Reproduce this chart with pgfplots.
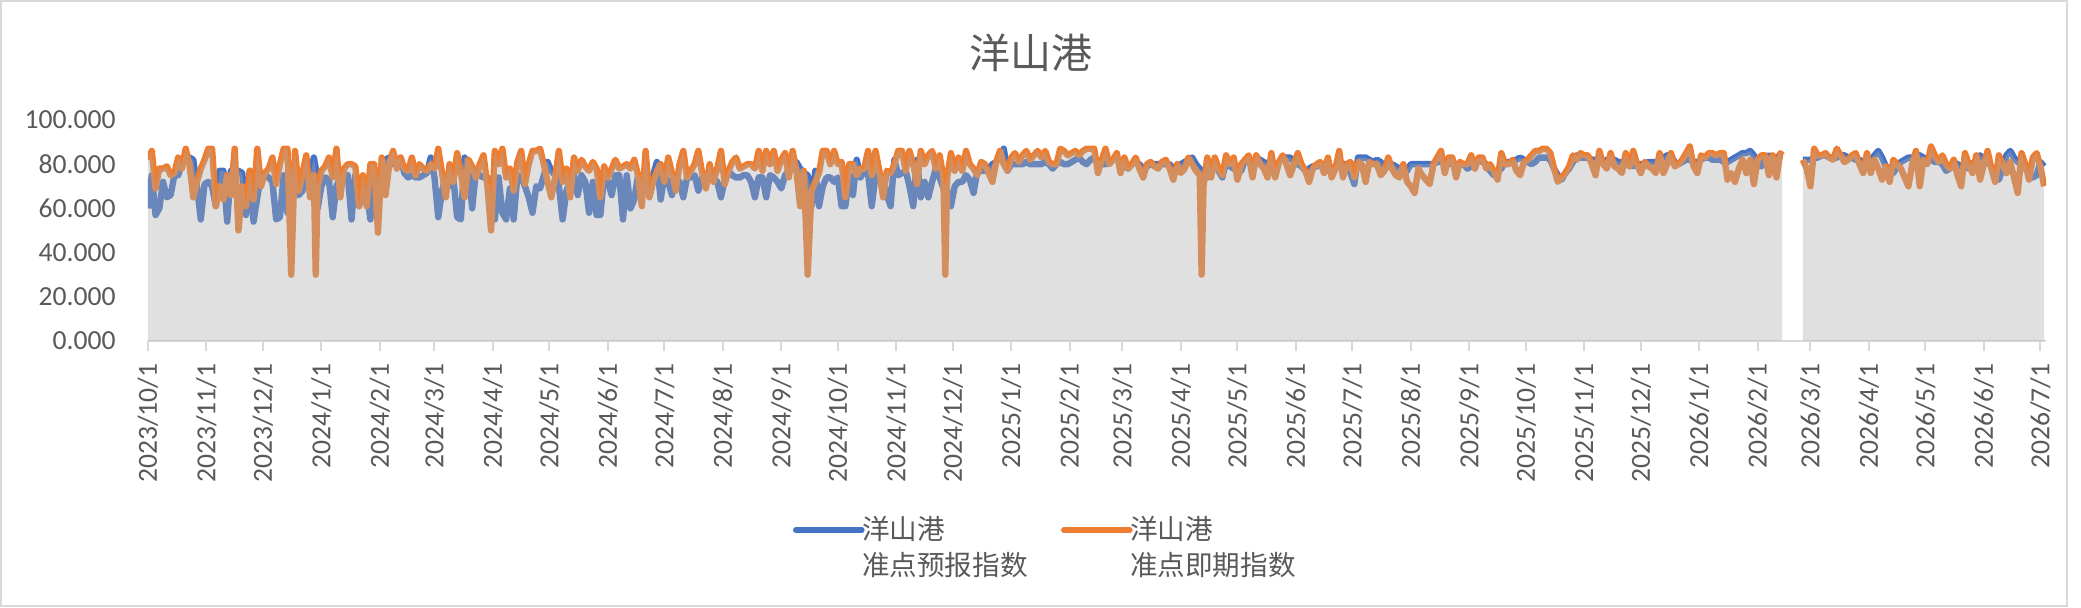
\documentclass[border=0pt]{standalone}
\usepackage{fontspec}
\setmainfont{Carlito}
\newfontfamily\cjk{Noto Sans CJK SC}
\usepackage{pgfplots}
\usepackage{pgfplotstable}
\pgfplotsset{compat=1.18}
\definecolor{cblue}{HTML}{4472C4}
\definecolor{corange}{HTML}{ED7D31}
\definecolor{tgray}{HTML}{595959}
\definecolor{agray}{HTML}{D9D9D9}
\definecolor{areag}{RGB}{171,171,171}

\pgfplotstableread{
d b o
0 60 82
2 75 86
4 57 69
6 60 78
8 72 78
10 65 79
12 66 75
14 75 76
16 75 83
18 80 78
20 83 87
22 83 80
24 82 65
26 70 72
28 55 78
30 71 82
32 72 87
34 70 87
36 61 61
38 77 70
40 77 64
42 54 75
44 77 66
46 77 87
48 77 50
50 76 70
52 57 61
54 77 77
56 54 64
58 65 87
60 75 70
62 75 76
64 74 78
66 72 83
68 55 71
70 56 80
72 75 87
74 58 87
76 75 30
78 72 86
80 66 68
82 68 76
84 74 84
86 74 65
88 83 75
89 78 30
90 60 70
92 70 77
94 74 79
96 73 83
98 56 74
100 70 87
102 74 65
104 75 78
106 75 80
108 55 80
110 75 79
112 61 61
114 70 75
116 68 61
118 55 80
120 74 80
122 72 49
124 75 83
126 82 66
128 83 80
130 80 86
132 82 78
134 83 83
136 76 78
138 74 77
140 75 83
142 74 75
144 74 80
146 75 78
148 76 77
150 83 80
152 74 78
154 56 87
156 68 76
158 74 65
160 70 80
162 74 72
164 56 85
166 55 76
168 83 65
170 78 82
172 60 79
174 77 74
176 75 80
178 74 84
180 74 71
182 66 50
184 55 86
186 74 80
188 58 87
190 55 74
192 69 78
194 55 68
196 75 81
198 74 86
200 70 71
202 65 80
204 58 86
206 70 86
208 69 87
210 75 80
212 81 72
214 77 65
216 75 74
218 70 86
220 55 72
222 68 78
224 72 65
226 75 83
228 66 77
230 75 82
232 72 79
234 58 77
236 72 81
238 57 78
240 57 65
242 75 79
244 72 74
246 66 78
248 75 82
250 75 78
252 55 79
254 75 80
256 60 78
258 64 82
260 75 75
262 73 61
264 72 86
266 69 65
268 75 72
270 81 77
272 64 80
274 75 72
276 72 83
278 66 76
280 74 68
282 72 80
284 65 86
286 74 74
288 74 77
290 75 80
292 68 86
294 74 76
296 75 69
298 77 80
300 74 72
302 72 78
304 65 86
306 73 71
308 77 77
310 75 81
312 74 83
314 74 78
316 75 79
318 75 80
320 72 80
322 65 78
324 74 86
326 74 77
328 65 86
330 75 80
332 74 86
334 72 77
336 69 82
338 75 85
340 77 74
342 78 86
344 81 77
346 78 61
348 76 77
350 75 30
352 61 68
354 77 72
356 61 76
358 70 86
360 74 86
362 74 80
364 72 86
366 74 80
368 61 81
370 61 65
372 75 80
374 66 80
376 82 75
378 74 78
380 77 78
382 76 86
384 61 75
386 75 86
388 74 77
390 74 65
392 66 77
394 61 76
396 82 80
398 75 86
400 76 86
402 77 77
404 70 86
406 61 80
408 82 71
410 65 86
412 72 80
414 65 84
416 72 86
418 78 78
420 74 84
422 69 74
423 70 30
424 68 74
426 61 85
428 70 77
430 72 83
432 72 77
434 75 86
436 73 80
438 67 78
440 77 75
442 77 81
444 77 80
446 78 76
448 80 72
450 81 81
452 83 86
454 87 80
456 77 77
458 80 83
460 80 85
462 80 81
464 80 84
466 81 86
468 80 82
470 80 84
472 80 86
474 80 83
476 81 86
478 80 81
480 78 80
482 80 80
484 81 87
486 80 86
488 80 84
490 81 85
492 82 86
494 83 84
496 81 86
498 80 87
500 82 87
502 83 87
504 81 76
506 80 82
508 80 87
510 81 80
512 82 82
514 83 85
516 81 76
518 79 83
520 78 78
522 80 80
524 81 83
526 80 78
528 78 74
530 79 80
532 80 81
534 80 79
536 80 78
538 80 81
540 80 82
542 80 78
544 78 73
546 79 80
548 80 76
550 81 78
552 82 83
554 83 80
556 80 77
558 78 75
559 77 30
560 76 70
562 74 83
564 78 74
566 81 83
568 77 78
570 74 75
572 81 84
574 79 80
576 78 83
578 77 73
580 77 80
582 82 82
584 82 84
586 80 74
588 83 84
590 82 80
592 81 78
594 80 74
596 79 85
598 78 74
600 81 81
602 83 84
604 83 80
606 83 75
608 81 80
610 80 85
612 79 80
614 77 77
616 78 72
618 79 78
620 79 80
622 80 81
624 80 76
626 80 83
628 78 74
630 79 78
632 80 86
634 80 74
636 80 80
638 76 81
640 71 74
642 83 81
644 83 80
646 83 72
648 82 81
650 81 80
652 82 80
654 81 75
656 78 77
658 79 83
660 80 78
662 79 75
664 78 74
666 76 80
668 77 72
670 80 70
672 80 67
674 80 78
676 80 75
678 80 73
680 80 71
682 80 80
684 81 83
686 81 86
688 80 76
690 80 83
692 81 83
694 80 74
696 80 81
698 80 80
700 78 80
702 79 84
704 81 78
706 82 83
708 81 83
710 80 78
712 77 80
714 75 77
716 77 73
718 78 85
720 81 80
722 81 80
724 81 82
726 82 77
728 83 75
730 82 81
732 81 82
734 80 84
736 81 86
738 83 86
740 83 87
742 83 87
744 82 85
746 78 78
748 75 72
750 73 74
752 76 76
754 78 79
756 81 84
758 84 82
760 83 85
762 83 84
764 83 84
766 82 80
768 82 75
770 81 86
772 81 80
774 82 78
776 82 85
778 82 79
780 81 78
782 81 76
784 81 85
786 80 79
788 79 86
790 80 80
792 80 76
794 80 81
796 81 79
798 81 78
800 81 76
802 82 85
804 83 76
806 84 80
808 84 85
810 81 79
812 80 80
814 81 82
816 82 85
818 82 88
820 81 79
822 81 76
824 82 84
826 83 83
828 83 85
830 82 85
832 82 84
834 82 85
836 81 85
838 81 73
840 82 76
842 83 72
844 84 78
846 85 82
848 85 76
850 86 82
852 84 71
854 80 82
856 79 84
858 83 84
860 84 75
862 83 84
864 83 74
866 84 85
867 84 84
}\tA

\pgfplotstableread{
d b o
878 82 82
880 82 78
882 82 70
884 83 87
886 83 84
888 84 84
890 84 85
892 83 83
894 83 82
896 83 87
898 84 84
900 84 81
902 83 82
904 83 84
906 82 85
908 82 80
910 81 76
912 81 85
914 82 76
916 84 82
918 86 78
920 83 73
922 79 79
924 78 72
926 76 82
928 79 80
930 81 78
932 82 74
934 83 70
936 83 80
938 84 86
940 84 70
942 83 82
944 82 80
946 82 88
948 81 84
950 81 81
952 80 84
954 77 80
956 78 78
958 81 82
960 80 75
962 79 70
964 79 85
966 78 80
968 80 76
970 82 84
972 84 73
974 82 80
976 81 86
978 79 78
980 76 72
982 73 84
984 78 80
986 84 76
988 86 81
990 83 74
992 81 67
994 80 85
996 78 80
998 76 73
1000 74 83
1002 75 85
1004 81 79
1006 79 70
}\tB

\begin{document}
\begin{tikzpicture}
\useasboundingbox (0,0) rectangle (1040.5pt,304pt);
\draw[agray, line width=1pt] (0.5pt,1pt) rectangle (1033.5pt,303.5pt);
\begin{axis}[
  at={(74pt,133.5pt)}, anchor=south west, scale only axis,
  width=949pt, height=110.5pt,
  xmin=0, xmax=1007, ymin=0, ymax=100,
  axis x line*=bottom, axis y line*=left,
  y axis line style={draw=none},
  x axis line style={draw=agray, line width=1pt},
  xtick={0,31,61,92,123,152,183,213,244,274,305,336,366,397,427,458,489,517,548,578,609,639,670,701,731,762,792,823,854,882,913,943,974,1004},
  xticklabels={2023/10/1,2023/11/1,2023/12/1,2024/1/1,2024/2/1,2024/3/1,2024/4/1,2024/5/1,2024/6/1,2024/7/1,2024/8/1,2024/9/1,2024/10/1,2024/11/1,2024/12/1,2025/1/1,2025/2/1,2025/3/1,2025/4/1,2025/5/1,2025/6/1,2025/7/1,2025/8/1,2025/9/1,2025/10/1,2025/11/1,2025/12/1,2026/1/1,2026/2/1,2026/3/1,2026/4/1,2026/5/1,2026/6/1,2026/7/1},
  xtick align=outside,
  xtick style={draw=agray, line width=1pt},
  major tick length=5pt,
  ytick={0,20,40,60,80,100},
  ytick style={draw=none},
  yticklabel={\pgfmathprintnumber[fixed,fixed zerofill,precision=3,assume math mode=true]{\tick}},
  tick label style={font=\fontsize{13.8}{16}\selectfont, text=tgray},
  xticklabel style={rotate=90, anchor=east, inner sep=0pt, xshift=-6pt},
  yticklabel style={anchor=east, inner sep=0pt, xshift=-16pt},
  legend columns=2,
  legend style={draw=none, fill=none, inner sep=0pt,
    at={(axis description cs:0.4733,-0.765)}, anchor=north,
    /tikz/every odd column/.append style={column sep=-3.3pt},
    /tikz/every even column/.append style={column sep=14.7pt},
    font=\cjk\fontsize{13.8}{18}\selectfont, text=tgray,
    cells={anchor=base west, inner sep=1pt}},
  legend image code/.code={\draw[#1, line width=2.8pt, line cap=round] (0pt,4.8pt) -- (33pt,4.8pt);},
]
\addplot[cblue, line width=3.2pt, line join=round] table[x=d,y=b]{\tA};
\addlegendentry{\begin{tabular}[t]{@{}l@{}}洋山港\\准点预报指数\end{tabular}}
\addplot[corange, line width=3.2pt, line join=round] table[x=d,y=o]{\tA};
\addlegendentry{\begin{tabular}[t]{@{}l@{}}洋山港\\准点即期指数\end{tabular}}
\addplot[cblue, line width=3.2pt, line join=round, forget plot] table[x=d,y=b]{\tB};
\addplot[corange, line width=3.2pt, line join=round, forget plot] table[x=d,y=o]{\tB};
\addplot[draw=none, fill=areag, fill opacity=0.37, forget plot] table[x=d, y expr={max(\thisrow{b},\thisrow{o})}]{\tA} \closedcycle;
\addplot[draw=none, fill=areag, fill opacity=0.37, forget plot] table[x=d, y expr={max(\thisrow{b},\thisrow{o})}]{\tB} \closedcycle;
\end{axis}
\node[font=\cjk\fontsize{20.5}{24}\selectfont, text=tgray] at (515.5pt,277.5pt) {洋山港};
\end{tikzpicture}
\end{document}
